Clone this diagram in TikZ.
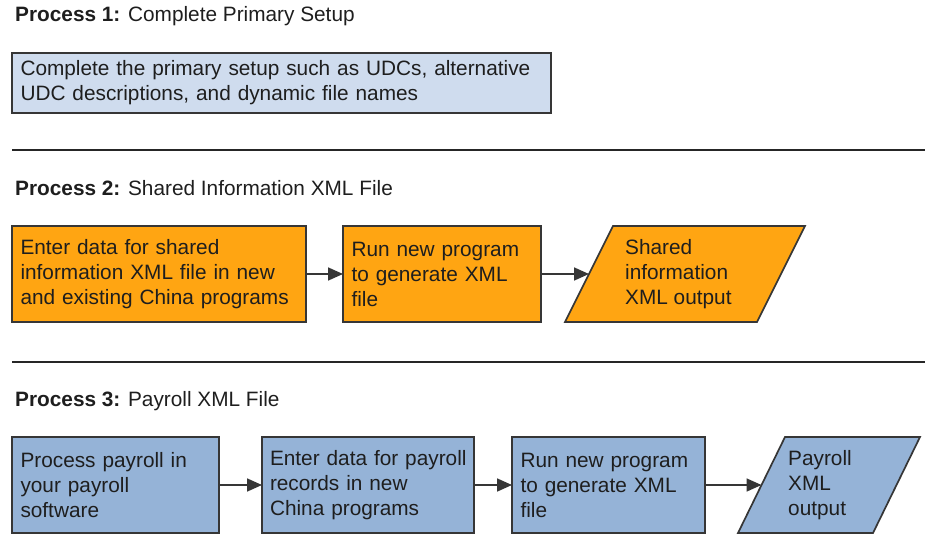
\documentclass[tikz,border=0pt]{standalone}
\usepackage{fontspec}
\setmainfont{Liberation Sans}
\usetikzlibrary{arrows.meta}

\definecolor{edge}{HTML}{363636}
\definecolor{setupfill}{HTML}{CFDCEE}
\definecolor{sharedfill}{HTML}{FFA512}
\definecolor{payfill}{HTML}{95B3D7}
\definecolor{ink}{HTML}{1E1E1E}

\tikzset{
  every node/.style={text=ink},
  heading/.style={anchor=base west, inner sep=0pt, font=\fontsize{20.8}{25}\selectfont},
  stepbox/.style={draw=edge, line width=1.7pt, rectangle, anchor=north west,
    outer sep=0pt, inner xsep=8.5pt, inner ysep=0pt, align=left,
    font=\fontsize{20.8}{25}\selectfont},
  outlabel/.style={anchor=west, inner sep=0pt, align=left,
    font=\fontsize{20.8}{25}\selectfont},
  outshape/.style={draw=edge, line width=1.7pt, line join=miter},
  flow/.style={draw=edge, line width=1.7pt, shorten <=0.85pt,
    -{Triangle[length=15pt,width=13pt]}},
  divider/.style={draw=black!85, line width=2.2pt},
}

\begin{document}
\begin{tikzpicture}[x=1pt, y=-1pt]
\useasboundingbox (0,0) rectangle (925,534);

% ---------- Process 1 ----------
\node[heading] (t1) at (15,22) {\textbf{Process 1:} Complete Primary Setup};
\node[stepbox, fill=setupfill, minimum width=539pt, minimum height=60pt,
      text width=522pt] (p1) at (12,53)
  {Complete the primary setup such as UDCs, alternative\\UDC descriptions, and dynamic file names};

\coordinate (d1a) at (12,150);
\coordinate (d1b) at (925,150);
\draw[divider] (d1a) -- (d1b);

% ---------- Process 2 ----------
\node[heading] (t2) at (15,196) {\textbf{Process 2:} Shared Information XML File};
\node[stepbox, fill=sharedfill, minimum width=294pt, minimum height=96pt,
      text width=277pt] (a) at (12,226)
  {Enter data for shared\\information XML file in new\\and existing China programs};
\node[stepbox, fill=sharedfill, minimum width=198pt, minimum height=96pt,
      text width=181pt] (b) at (343,226)
  {Run new program\\to generate XML\\file};

% shared information output (parallelogram)
\coordinate (s1) at (613,226);
\coordinate (s2) at (805,226);
\coordinate (s3) at (757,322);
\coordinate (s4) at (565,322);
\coordinate (sin) at (589,274);
\draw[outshape, fill=sharedfill] (s1) -- (s2) -- (s3) -- (s4) -- cycle;
\node[outlabel] (sout) at (625,274) {Shared\\information\\XML output};

\draw[flow] (a.east) -- (b.west);
\draw[flow] (b.east) -- (sin);

\coordinate (d2a) at (12,362);
\coordinate (d2b) at (925,362);
\draw[divider] (d2a) -- (d2b);

% ---------- Process 3 ----------
\node[heading] (t3) at (15,406) {\textbf{Process 3:} Payroll XML File};
\node[stepbox, fill=payfill, minimum width=207pt, minimum height=96pt,
      text width=190pt] (c) at (12,437)
  {Process payroll in\\your payroll\\software};
\node[stepbox, fill=payfill, minimum width=212pt, minimum height=96pt,
      inner xsep=8pt, text width=196pt] (d) at (262,437)
  {\mbox{Enter data for payroll}\\records in new\\China programs};
\node[stepbox, fill=payfill, minimum width=193pt, minimum height=96pt,
      text width=176pt] (e) at (512,437)
  {Run new program\\to generate XML\\file};

% payroll output (parallelogram)
\coordinate (q1) at (785,437);
\coordinate (q2) at (920,437);
\coordinate (q3) at (873,533);
\coordinate (q4) at (738,533);
\coordinate (qin) at (761.5,485);
\draw[outshape, fill=payfill] (q1) -- (q2) -- (q3) -- (q4) -- cycle;
\node[outlabel] (qout) at (788,485) {Payroll\\XML\\output};

\draw[flow] (c.east) -- (d.west);
\draw[flow] (d.east) -- (e.west);
\draw[flow] (e.east) -- (qin);
\end{tikzpicture}
\end{document}
